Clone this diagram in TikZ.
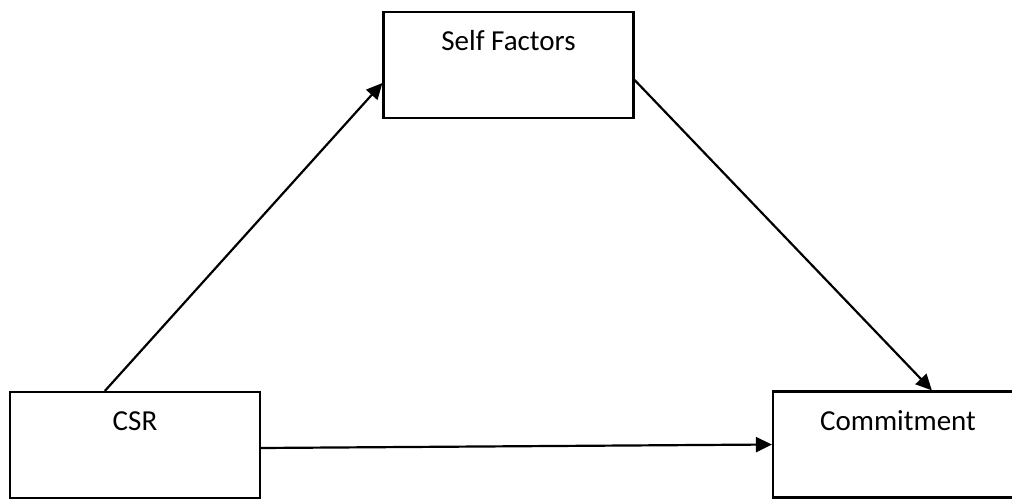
\documentclass[tikz,border=0pt]{standalone}
\usepackage{fontspec}
\setmainfont{Carlito}
\usetikzlibrary{arrows.meta}
\begin{document}
\begin{tikzpicture}[x=0.5pt,y=-0.5pt,
  box/.style={draw=black, line width=1.1pt, minimum width=125pt, minimum height=53pt, inner sep=0pt},
  lbl/.style={anchor=base, label distance=-20pt, font=\fontsize{14.5pt}{17pt}\selectfont},
  conn/.style={line width=1.1pt, -{Triangle[length=8pt,width=7.5pt]}}]
\useasboundingbox (0,0) rectangle (1012,498);
\clip (0,0) rectangle (1012,498);
\node[box, label={[lbl]north:Self Factors}] (sf) at (508.5,65) {};
\node[box, label={[lbl]north:CSR}] (csr) at (135,445) {};
\node[box, label={[lbl]north:Commitment}] (com) at (898,444.5) {};
\draw[conn] ([xshift=48pt]csr.north west) -- ([yshift=-9pt]sf.west);
\draw[conn] ([yshift=-7.5pt]sf.east) -- ([xshift=80pt]com.north west);
\draw[conn] ([yshift=-1.5pt]csr.east) -- (com.west);
\end{tikzpicture}
\end{document}
